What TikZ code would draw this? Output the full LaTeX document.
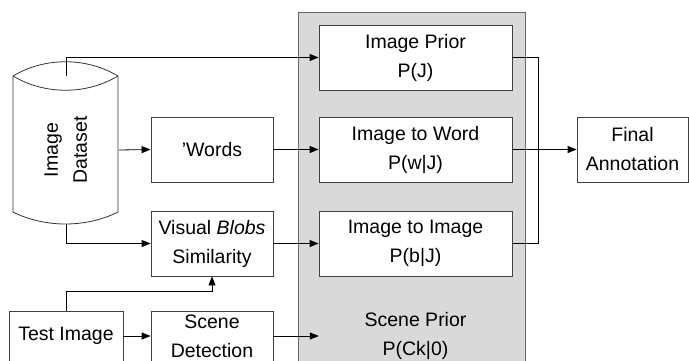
\documentclass[tikz,border=0pt]{standalone}
\usepackage{fontspec}
\setmainfont{Liberation Sans}
\usetikzlibrary{arrows.meta, positioning}

\begin{document}
\begin{tikzpicture}[x=1pt, y=-1pt,
    font=\fontsize{19.5}{29}\selectfont,
    box/.style={draw=black!75, line width=0.8pt, fill=white, align=center, inner sep=2pt},
    arr/.style={line width=0.8pt, -{Triangle[length=9pt,width=7pt]}},
    wire/.style={line width=0.8pt}]
    \useasboundingbox (0,0) rectangle (689,360);
    \clip (0,0) rectangle (689,360);
    % model panel
    \draw[fill=black!15, draw=black!60, line width=0.8pt] (298,12) rectangle (525,375);
    % dataset cylinder
    \draw[line width=0.8pt, draw=black!80, fill=white] (13,76) .. controls (45,57) and (86,57) .. (118,76)
        -- (118,212) .. controls (86,228) and (45,228) .. (13,212) -- cycle;
    \draw[line width=0.8pt, draw=black!80] (13,76) .. controls (45,95) and (86,95) .. (118,76);
    \node[minimum width=105pt, minimum height=148pt, inner sep=0pt]
        (dataset) at (66.5,150) {\rotatebox{90}{\begin{tabular}{@{}c@{}}Image\\Dataset\end{tabular}}};
    % boxes
    \node[box, minimum width=193pt, minimum height=65pt] (prior) at (415.5,57.5) {Image Prior\\P(J)};
    \node[box, minimum width=193pt, minimum height=65pt] (word) at (415.5,149.5) {Image to Word\\P(w|J)};
    \node[box, minimum width=193pt, minimum height=65pt] (img) at (415.5,243.5) {Image to Image\\P(b|J)};
    \node[align=center, minimum width=193pt] (scene) at (415.5,336) {Scene Prior\\P(Ck|0)};
    \node[box, minimum width=122pt, minimum height=65pt] (words) at (212,149.5) {’Words};
    \node[box, minimum width=122pt, minimum height=65pt] (blobs) at (212,243.5) {Visual {\itshape Blobs}\\Similarity};
    \node[box, minimum width=122pt, minimum height=50pt] (detect) at (212,336) {Scene\\Detection};
    \node[box, minimum width=114pt, minimum height=50pt] (test) at (66,336) {Test Image};
    \node[box, minimum width=111pt, minimum height=65pt] (final) at (632.5,149.5) {Final\\Annotation};
    \coordinate (bus) at (538,0);
    % connectors
    \draw[arr] (dataset.north) |- (prior.west);
    \draw[arr] (dataset.east) -- (words.west);
    \draw[arr] (words.east) -- (word.west);
    \draw[arr] (dataset.south) |- (blobs.west);
    \draw[arr] (blobs.east) -- (img.west);
    \draw[arr] (test.north) -- ++(0,-19) -| (blobs.south);
    \draw[arr] (test.east) -- (detect.west);
    \draw[arr] (detect.east) -- (scene.west);
    \draw[wire] (prior.east) -| (bus |- img.east) -- (img.east);
    \draw[arr] (word.east) -- (final.west);
\end{tikzpicture}
\end{document}
